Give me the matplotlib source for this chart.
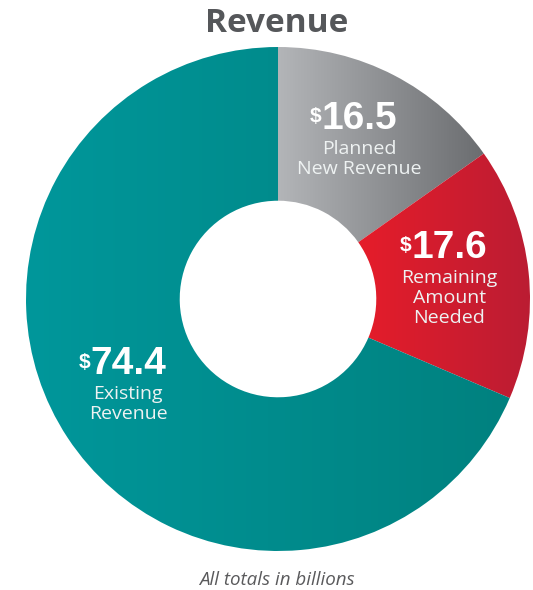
import numpy as np
import matplotlib.pyplot as plt
from matplotlib.colors import LinearSegmentedColormap

# revenue split, in billions of dollars
values = [16.5, 17.6, 74.4]
amounts = ['16.5', '17.6', '74.4']
descriptions = [['Planned', 'New Revenue'],
                ['Remaining', 'Amount', 'Needed'],
                ['Existing', 'Revenue']]

# left -> right gradient stops for each slice
grad_left = ['#b3b5b8', '#e61c2a', '#00979b']
grad_right = ['#6b6d70', '#bb1d33', '#00817f']

# label anchors (data units, donut radius = 1): centre x, number baseline y
label_x = [0.321, 0.679, -0.595]
label_y = [0.675, 0.163, -0.298]

W, H = 533, 590
fig = plt.figure(figsize=(W / 100, H / 100), dpi=100)
ax = fig.add_axes([26 / W, 39 / H, 504 / W, 504 / H])

wedges, _ = ax.pie(values, startangle=90, counterclock=False, radius=1,
                   wedgeprops=dict(width=0.61, linewidth=0))
ax.set_aspect('equal')
ax.axis('off')

# fill each wedge with a horizontal gradient clipped to its shape
grad = np.linspace(0, 1, 256).reshape(1, -1)
for w, c0, c1 in zip(wedges, grad_left, grad_right):
    w.set_facecolor('none')
    w.set_edgecolor('none')
    bb = w.get_path().get_extents()
    cmap = LinearSegmentedColormap.from_list('g', [c0, c1])
    im = ax.imshow(grad, cmap=cmap, aspect='auto', interpolation='bilinear',
                   extent=[bb.x0, bb.x1, bb.y0, bb.y1], zorder=1)
    im.set_clip_path(w)
ax.set_xlim(-1, 1)
ax.set_ylim(-1, 1)

px = 1 / 252  # one pixel in data units
fig.canvas.draw()
renderer = fig.canvas.get_renderer()

for x, y, amt, lines in zip(label_x, label_y, amounts, descriptions):
    num = ax.text(x, y, amt, ha='center', va='baseline', color='white',
                  fontsize=28, fontweight='bold', family='Liberation Sans', zorder=3)
    bb = num.get_window_extent(renderer).transformed(ax.transData.inverted())
    ax.text(bb.x0 + 0.5 * px, y + 21.5 * px, '$', ha='right', va='top', color='white',
            fontsize=15, fontweight='bold', family='Liberation Sans', zorder=3)
    for i, line in enumerate(lines):
        ax.text(x, y - (25 + 20 * i) * px, line, ha='center', va='baseline',
                color='#eef2f2', fontsize=14, family='Open Sans', zorder=3)

fig.text(277 / W, 1 - 32 / H, 'Revenue', ha='center', va='baseline',
         fontsize=24, fontweight='bold', family='Open Sans', color='#55575a')
fig.text(277 / W, 1 - 585 / H, 'All totals in billions', ha='center', va='baseline',
         fontsize=13.5, style='italic', family='Open Sans', color='#5a5a5c')

fig.savefig('out.png', dpi=100)
